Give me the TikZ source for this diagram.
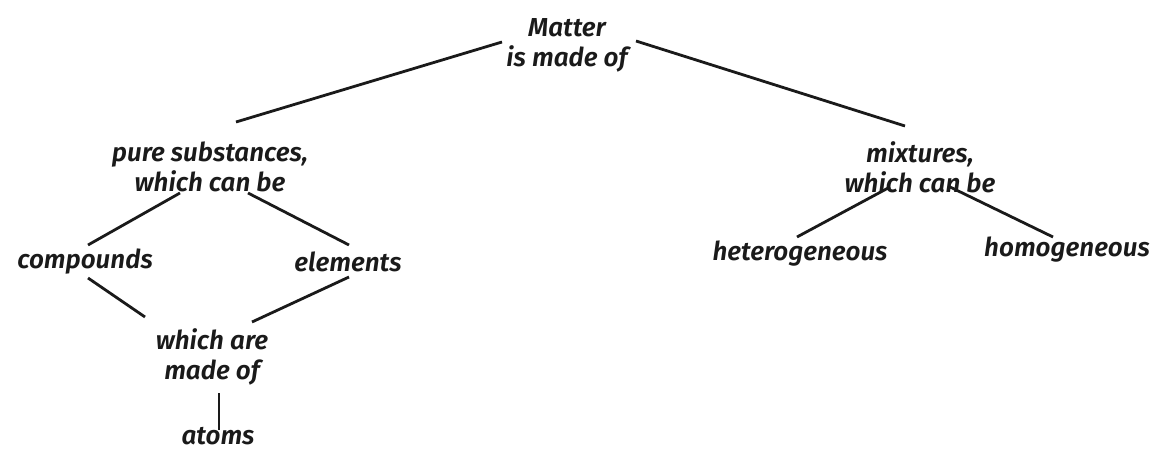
\documentclass[tikz,border=0pt]{standalone}
\usepackage{fontspec}
\setmainfont{Fira Sans}[ItalicFont={Fira Sans SemiBold Italic}]
\definecolor{ink}{HTML}{1A1A1A}
\begin{document}
\begin{tikzpicture}[x=0.75pt,y=-0.75pt,
  lbl/.style={text=ink,font=\fontsize{19.5}{22.5}\selectfont\itshape,align=center,inner sep=0pt},
  link/.style={draw=ink,line width=2.1pt}]
\useasboundingbox (0,0) rectangle (1160,452);
\node[lbl] (matter) at (567,45) {Matter\\is made of};
\node[lbl] (pure) at (210,167) {pure substances,\\which can be};
\node[lbl] (mix) at (920,167) {mixtures,\\which can be};
\node[lbl] (comp) at (85,262) {compounds};
\node[lbl] (elem) at (348,262) {elements};
\node[lbl] (made) at (212,357) {which are\\made of};
\node[lbl] (atoms) at (218,436) {atoms};
\node[lbl] (het) at (800,254) {heterogeneous};
\node[lbl] (hom) at (1067,250) {homogeneous};
\coordinate (m1) at (502,42); \coordinate (p0) at (236,122);
\coordinate (m2) at (636,41); \coordinate (x0) at (905,126);
\coordinate (p1) at (180,193); \coordinate (c0) at (88,245);
\coordinate (p2) at (248,193); \coordinate (e0) at (349,245);
\coordinate (c1) at (88,278); \coordinate (w1) at (145,317);
\coordinate (e1) at (349,277); \coordinate (w2) at (252,322);
\coordinate (w3) at (219,393); \coordinate (a0) at (219,430);
\coordinate (x1) at (890,187); \coordinate (h1) at (797,237);
\coordinate (x2) at (948,186); \coordinate (h2) at (1053,237);
\draw[link] (m1) -- (p0);
\draw[link] (m2) -- (x0);
\draw[link] (p1) -- (c0);
\draw[link] (p2) -- (e0);
\draw[link] (c1) -- (w1);
\draw[link] (e1) -- (w2);
\draw[link] (w3) -- (a0);
\draw[link] (x1) -- (h1);
\draw[link] (x2) -- (h2);
\end{tikzpicture}
\end{document}
